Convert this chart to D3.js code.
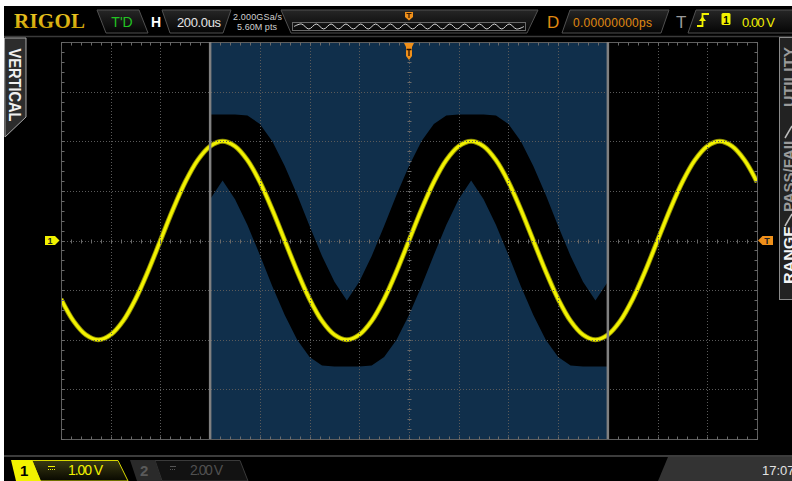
<!DOCTYPE html>
<html>
<head>
<meta charset="utf-8">
<script src="https://cdn.jsdelivr.net/npm/d3@7"></script>
<style>
html, body { margin: 0; padding: 0; background: #fff; }
svg { display: block; }
text { font-family: "Liberation Sans", Arial, sans-serif; }
</style>
</head>
<body>
<svg id="scope" width="792" height="481"></svg>
<script>
// ---- data ----
// time axis: 200us/div, 14 divisions, trigger at centre
const timeUs = d3.range(-1400, 1401, 50);
// CH1 trace, volts (1.00 V/div)
const ch1Volts = [
	-1.18, -1.62, -1.90, -2.00, -1.90, -1.62, -1.18, -0.62, 0.00,
	0.62, 1.18, 1.62, 1.90, 2.00, 1.90, 1.62, 1.18, 0.62, 0.00,
	-0.62, -1.18, -1.62, -1.90, -2.00, -1.90, -1.62, -1.18, -0.62, 0.00,
	0.62, 1.18, 1.62, 1.90, 2.00, 1.90, 1.62, 1.18, 0.62, 0.00,
	-0.62, -1.18, -1.62, -1.90, -2.00, -1.90, -1.62, -1.18, -0.62, 0.00,
	0.62, 1.18, 1.62, 1.90, 2.00, 1.90, 1.62, 1.18
];
// pass/fail mask, only between the two cursor lines
const maskTimeUs = d3.range(-800, 801, 50);
const maskUpper = [
	2.54, 2.54, 2.54, 2.52, 2.35, 2.00, 1.50, 0.92, 0.29, -0.31, -0.83,
	-1.21, -0.83, -0.31, 0.29, 0.92, 1.50, 2.00, 2.35, 2.52, 2.54, 2.54,
	2.54, 2.52, 2.35, 2.00, 1.50, 0.92, 0.29, -0.31, -0.83, -1.21, -0.83
];
const maskLower = [
	0.83, 1.21, 0.83, 0.31, -0.29, -0.92, -1.50, -2.00, -2.35, -2.52, -2.54,
	-2.54, -2.54, -2.52, -2.35, -2.00, -1.50, -0.92, -0.29, 0.31, 0.83, 1.21,
	0.83, 0.31, -0.29, -0.92, -1.50, -2.00, -2.35, -2.52, -2.54, -2.54, -2.54
];
// memory overview strip in the top bar (normalised levels)
const overviewLevels = [
	0, 1, -1, 1, -1, 1, -1, 1, -1, 1, -1, 1, -1, 1, -1, 1,
	-1, 1, -1, 1, -1, 1, -1, 1, -1, 1, -1, 1, -1, 1, -1, 0
];
// texts
const timebase = "200.0us";
const sampleRate = "2.000GSa/s";
const memDepth = "5.60M pts";
const delayText = "0.00000000ps";
const trigLevel = "0.00 V";
const ch1Scale = "1.00 V";
const ch2Scale = "2.00 V";
const clockText = "17:07";
const rightMenus = ["UTILITY", "PASS/FAIL", "RANGE"];

const YELLOW = "#f2f200";
const ORANGE = "#f0901a";

const svg = d3.select("#scope");

// scales for the graticule
const x = d3.scaleLinear().domain([-1400, 1400]).range([61, 757]);
const y = d3.scaleLinear().domain([-4, 4]).range([439, 42]);
const px = v => Math.round(v) + 0.5;

const defs = svg.append("defs");
defs.append("clipPath").attr("id", "plotClip")
	.append("rect").attr("x", 61).attr("y", 42).attr("width", 696).attr("height", 397);
let g1 = defs.append("linearGradient").attr("id", "boxGrad").attr("x1", 0).attr("x2", 0).attr("y1", 0).attr("y2", 1);
g1.append("stop").attr("offset", 0).attr("stop-color", "#262626");
g1.append("stop").attr("offset", 1).attr("stop-color", "#050505");
let g2 = defs.append("linearGradient").attr("id", "ch1Grad").attr("x1", 0).attr("x2", 0).attr("y1", 0).attr("y2", 1);
g2.append("stop").attr("offset", 0).attr("stop-color", "#3a3a12");
g2.append("stop").attr("offset", 1).attr("stop-color", "#080800");
let g3 = defs.append("linearGradient").attr("id", "goldGrad").attr("x1", 0).attr("x2", 0).attr("y1", 0).attr("y2", 1);
g3.append("stop").attr("offset", 0).attr("stop-color", "#f2cf2a");
g3.append("stop").attr("offset", 1).attr("stop-color", "#c89a00");

// screen background
svg.append("rect").attr("x", 4).attr("y", 6).attr("width", 788).attr("height", 475).attr("fill", "#000");

// ---------- top bar ----------
const topBar = svg.append("g");
topBar.append("line").attr("x1", 4).attr("x2", 792).attr("y1", 36.5).attr("y2", 36.5)
	.attr("stroke", "#3a3a3a").attr("stroke-width", 1.5);

topBar.append("text").attr("x", 14).attr("y", 28)
	.style("font-family", "'Liberation Serif', serif").style("font-weight", "bold")
	.style("font-size", "21px").attr("fill", "url(#goldGrad)")
	.attr("textLength", 71).text("RIGOL");

const boxes = [
	[[97, 10], [139, 10], [148, 33], [106, 33]],
	[[162, 10], [231, 10], [223, 33], [170, 33]],
	[[281, 10], [538, 10], [527, 33], [291, 33]],
	[[570, 10], [669, 10], [661, 33], [562, 33]],
	[[696, 10], [800, 10], [800, 33], [688, 33]]
];
topBar.selectAll("polygon.box").data(boxes).join("polygon")
	.attr("class", "box")
	.attr("points", d => d.map(p => p.join(",")).join(" "))
	.attr("fill", "url(#boxGrad)").attr("stroke", "#505050").attr("stroke-width", 1);

topBar.append("text").attr("x", 122).attr("y", 27).attr("text-anchor", "middle")
	.style("font-size", "14px").attr("fill", "#22c422").text("T'D");
topBar.append("text").attr("x", 151).attr("y", 27)
	.style("font-size", "14px").style("font-weight", "bold").attr("fill", "#fff").text("H");
topBar.append("text").attr("x", 177).attr("y", 27)
	.style("font-size", "13px").attr("fill", "#e4e4e4").attr("textLength", 44).text(timebase);
topBar.append("text").attr("x", 233).attr("y", 19.5)
	.style("font-size", "9px").attr("fill", "#cfcfcf").attr("textLength", 49).text(sampleRate);
topBar.append("text").attr("x", 237).attr("y", 29.5)
	.style("font-size", "9px").attr("fill", "#cfcfcf").attr("textLength", 40).text(memDepth);

// memory overview
topBar.append("rect").attr("x", 292.5).attr("y", 22.5).attr("width", 233).attr("height", 8)
	.attr("fill", "none").attr("stroke", "#6a6a6a");
const ox = d3.scaleLinear().domain([0, overviewLevels.length - 1]).range([294, 524]);
const oy = d3.scaleLinear().domain([-1, 1]).range([29, 24]);
topBar.append("path").datum(overviewLevels)
	.attr("d", d3.line().x((d, i) => ox(i)).y(d => oy(d)).curve(d3.curveCatmullRom))
	.attr("fill", "none").attr("stroke", "#d8d8d8").attr("stroke-width", 1);
// trigger position on overview
topBar.append("path").attr("d", "M405,12 H413 V17 L409,20.5 L405,17 Z").attr("fill", ORANGE);
topBar.append("path").attr("d", "M406.5,13.5 H411.5 M409,13.5 V18").attr("stroke", "#3a1a00").attr("stroke-width", 1.2);

topBar.append("text").attr("x", 547).attr("y", 27.5)
	.style("font-size", "17px").attr("fill", "#e08a10").text("D");
topBar.append("text").attr("x", 573).attr("y", 26.5)
	.style("font-size", "12px").attr("fill", "#e08a10").attr("textLength", 79).text(delayText);
topBar.append("text").attr("x", 676).attr("y", 27.5)
	.style("font-size", "17px").attr("fill", "#9a9a9a").text("T");

// rising edge icon
topBar.append("path").attr("d", "M697,26 H702.5 V14 H709")
	.attr("fill", "none").attr("stroke", YELLOW).attr("stroke-width", 1.8);
topBar.append("path").attr("d", "M699,21 L702.5,16.5 L706,21 Z").attr("fill", YELLOW);
topBar.append("rect").attr("x", 721.5).attr("y", 13).attr("width", 9).attr("height", 12).attr("rx", 1.5).attr("fill", YELLOW);
topBar.append("text").attr("x", 726).attr("y", 23.5).attr("text-anchor", "middle")
	.style("font-size", "10px").style("font-weight", "bold").attr("fill", "#000").text("1");
topBar.append("text").attr("x", 742).attr("y", 26.5)
	.style("font-size", "13px").attr("fill", YELLOW).attr("textLength", 33).text(trigLevel);

// ---------- plot area ----------
const plot = svg.append("g").attr("clip-path", "url(#plotClip)");

plot.append("rect")
	.attr("x", x(-800)).attr("y", y(4))
	.attr("width", x(800) - x(-800)).attr("height", y(-4) - y(4))
	.attr("fill", "#102f4b");

const maskData = maskTimeUs.map((t, i) => ({t: t, hi: maskUpper[i], lo: maskLower[i]}));
plot.append("path").datum(maskData)
	.attr("d", d3.area().x(d => x(d.t)).y0(d => y(d.lo)).y1(d => y(d.hi)))
	.attr("fill", "#000");

// graticule
const grid = svg.append("g");
const vDivs = d3.range(-1400, 1401, 200);
const hDivs = d3.range(-4, 4.01, 1);
grid.selectAll("line.vg").data(vDivs.slice(1, -1)).join("line")
	.attr("x1", d => px(x(d))).attr("x2", d => px(x(d)))
	.attr("y1", y(4)).attr("y2", y(-4))
	.attr("stroke", "#5a5a5a").attr("stroke-dasharray", "1,2");
grid.selectAll("line.hg").data(hDivs.slice(1, -1)).join("line")
	.attr("y1", d => px(y(d))).attr("y2", d => px(y(d)))
	.attr("x1", x(-1400)).attr("x2", x(1400))
	.attr("stroke", "#5a5a5a").attr("stroke-dasharray", "1,2");
grid.append("rect")
	.attr("x", px(x(-1400))).attr("y", px(y(4)))
	.attr("width", Math.round(x(1400)) - Math.round(x(-1400)))
	.attr("height", Math.round(y(-4)) - Math.round(y(4)))
	.attr("fill", "none").attr("stroke", "#5e5e5e");

const minorT = d3.range(-1400, 1401, 40);
const minorV = d3.range(-4, 4.001, 0.2);
const x0 = px(x(0)), y0 = px(y(0));
const tickSegs = [];
minorT.forEach(t => {
	const xx = px(x(t));
	tickSegs.push([xx, y0 - 2, xx, y0 + 2]);
	tickSegs.push([xx, px(y(4)), xx, px(y(4)) + 3]);
	tickSegs.push([xx, px(y(-4)) - 3, xx, px(y(-4))]);
});
minorV.forEach(v => {
	const yy = px(y(v));
	tickSegs.push([x0 - 2, yy, x0 + 2, yy]);
	tickSegs.push([px(x(-1400)), yy, px(x(-1400)) + 3, yy]);
	tickSegs.push([px(x(1400)) - 3, yy, px(x(1400)), yy]);
});
grid.selectAll("line.tk").data(tickSegs).join("line")
	.attr("x1", d => d[0]).attr("y1", d => d[1]).attr("x2", d => d[2]).attr("y2", d => d[3])
	.attr("stroke", "#6a6a6a");

// CH1 trace
const traceData = timeUs.map((t, i) => ({t: t, v: ch1Volts[i]}));
const traceLine = d3.line().x(d => x(d.t)).y(d => y(d.v)).curve(d3.curveCatmullRom);
plot.append("path").datum(traceData).attr("d", traceLine)
	.attr("fill", "none").attr("stroke", "#8f8f00").attr("stroke-width", 5);
plot.append("path").datum(traceData).attr("d", traceLine)
	.attr("fill", "none").attr("stroke", YELLOW).attr("stroke-width", 3.2);

// mask window cursors
svg.selectAll("line.cur").data([-800, 800]).join("line")
	.attr("x1", d => x(d)).attr("x2", d => x(d))
	.attr("y1", y(4)).attr("y2", y(-4))
	.attr("stroke", "#808080").attr("stroke-width", 2.5);

// trigger position marker (top)
const tx = x(0);
svg.append("path")
	.attr("d", `M${tx - 5},43 H${tx + 5} L${tx + 3},47 V56 L${tx},60 L${tx - 3},56 V47 Z`)
	.attr("fill", ORANGE);
svg.append("path").attr("d", `M${tx - 2.5},49.5 H${tx + 2.5} M${tx},49.5 V56`)
	.attr("stroke", "#2a1200").attr("stroke-width", 1.3);

// CH1 offset marker (left)
const y1m = y(0);
svg.append("path")
	.attr("d", `M45,${y1m - 4.5} H55 L59.5,${y1m} L55,${y1m + 4.5} H45 Z`).attr("fill", YELLOW);
svg.append("text").attr("x", 50).attr("y", y1m + 3.5).attr("text-anchor", "middle")
	.style("font-size", "9px").style("font-weight", "bold").attr("fill", "#222").text("1");

// trigger level marker (right)
svg.append("path")
	.attr("d", `M758,${y1m} L762.5,${y1m - 4.5} H773 V${y1m + 4.5} H762.5 Z`).attr("fill", ORANGE);
svg.append("text").attr("x", 767).attr("y", y1m + 3.5).attr("text-anchor", "middle")
	.style("font-size", "9px").style("font-weight", "bold").attr("fill", "#222").text("T");

// ---------- side tabs ----------
svg.append("polygon").attr("points", "4.5,38 26,38 26,117 5,137")
	.attr("fill", "#2c2c2c").attr("stroke", "#a8a8a8").attr("stroke-width", 1);
svg.append("text").attr("transform", "translate(8.5,85) rotate(90)")
	.attr("text-anchor", "middle").style("font-size", "16px").style("font-weight", "bold")
	.attr("fill", "#f0f0f0").attr("textLength", 73).attr("lengthAdjust", "spacingAndGlyphs")
	.text("VERTICAL");

svg.append("rect").attr("x", 779.5).attr("y", 37.5).attr("width", 20).attr("height", 262)
	.attr("fill", "#222").attr("stroke", "#8a8a8a");
const menuY = [77, 174, 255];
const menuLen = [60, 76, 58];
svg.selectAll("text.menu").data(rightMenus).join("text")
	.attr("transform", (d, i) => `translate(793.5,${menuY[i]}) rotate(-90)`)
	.attr("text-anchor", "middle").style("font-size", "15px").style("font-weight", "bold")
	.attr("fill", (d, i) => i === 2 ? "#f4f4f4" : "#9a9a9a")
	.attr("textLength", (d, i) => menuLen[i]).attr("lengthAdjust", "spacingAndGlyphs")
	.text(d => d);
svg.selectAll("line.sep").data([132, 220]).join("line")
	.attr("x1", 785).attr("y1", d => d + 6).attr("x2", 792).attr("y2", d => d - 6)
	.attr("stroke", "#bdbdbd").attr("stroke-width", 1.5);

// ---------- bottom bar ----------
const bot = svg.append("g");
bot.append("line").attr("x1", 4).attr("x2", 792).attr("y1", 456).attr("y2", 456)
	.attr("stroke", "#3c3c3c").attr("stroke-width", 2);

bot.append("polygon").attr("points", "32,460.5 118,460.5 128,481 40,481")
	.attr("fill", "url(#ch1Grad)").attr("stroke", "#d8d800").attr("stroke-width", 1);
bot.append("polygon").attr("points", "11,460 32,460 41,481 16,481").attr("fill", YELLOW);
bot.append("text").attr("x", 20).attr("y", 476)
	.style("font-size", "15px").style("font-weight", "bold").attr("fill", "#000").text("1");
bot.append("line").attr("x1", 48).attr("x2", 55).attr("y1", 466.5).attr("y2", 466.5).attr("stroke", YELLOW);
bot.append("line").attr("x1", 48).attr("x2", 55).attr("y1", 469.5).attr("y2", 469.5)
	.attr("stroke", YELLOW).attr("stroke-dasharray", "1,1");
bot.append("text").attr("x", 68).attr("y", 475)
	.style("font-size", "14px").attr("fill", YELLOW).attr("textLength", 35).text(ch1Scale);

bot.append("polygon").attr("points", "155,460.5 240,460.5 248,481 162,481")
	.attr("fill", "#121212").attr("stroke", "#3a3a3a").attr("stroke-width", 1);
bot.append("polygon").attr("points", "130,460 155,460 162,481 137,481").attr("fill", "#2a2a2a");
bot.append("text").attr("x", 140).attr("y", 476)
	.style("font-size", "15px").style("font-weight", "bold").attr("fill", "#5a5a5a").text("2");
bot.append("line").attr("x1", 170).attr("x2", 176).attr("y1", 466.5).attr("y2", 466.5).attr("stroke", "#555");
bot.append("line").attr("x1", 170).attr("x2", 176).attr("y1", 469.5).attr("y2", 469.5)
	.attr("stroke", "#555").attr("stroke-dasharray", "1,1");
bot.append("text").attr("x", 190).attr("y", 475)
	.style("font-size", "14px").attr("fill", "#505050").attr("textLength", 33).text(ch2Scale);

bot.append("polygon").attr("points", "668,457 792,457 792,481 658,481").attr("fill", "#333");
bot.append("text").attr("x", 762).attr("y", 475)
	.style("font-size", "13px").attr("fill", "#e2e2e2").text(clockText);
</script>
</body>
</html>
